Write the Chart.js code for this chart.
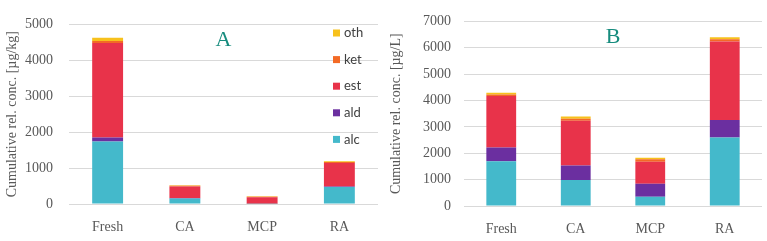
<!DOCTYPE html>
<html>
<head>
<meta charset="utf-8">
<script src="https://cdn.jsdelivr.net/npm/chart.js@4/dist/chart.umd.min.js"></script>
<style>
  html, body { margin: 0; padding: 0; background: #fff; }
  #wrapA { position: absolute; left: 0; top: 0; width: 384px; height: 241px; }
  #wrapB { position: absolute; left: 384px; top: 0; width: 383px; height: 241px; }
</style>
</head>
<body>
<div id="wrapA"><canvas id="chartA"></canvas></div>
<div id="wrapB"><canvas id="chartB"></canvas></div>
<script>
const categories = ['Fresh', 'CA', 'MCP', 'RA'];
const seriesNames = ['alc', 'ald', 'est', 'ket', 'oth'];
const seriesColors = ['#44B9CB', '#6B2FA0', '#E8334A', '#F36A25', '#F7C11C'];

// panel A, µg/kg
const alcA = [1740, 150, 5, 470];
const aldA = [110, 20, 5, 20];
const estA = [2630, 320, 180, 650];
const ketA = [60, 20, 15, 30];
const othA = [90, 15, 10, 20];
const ticksA = [0, 1000, 2000, 3000, 4000, 5000];

// panel B, µg/L
const alcB = [1700, 990, 350, 2600];
const aldB = [520, 550, 490, 660];
const estB = [1950, 1690, 840, 2980];
const ketB = [60, 80, 90, 80];
const othB = [60, 80, 60, 80];
const ticksB = [0, 1000, 2000, 3000, 4000, 5000, 6000, 7000];

const serif = "'Liberation Serif', serif";
const textGray = '#595959';

function makeDatasets(values) {
    return values.map((v, i) => ({
        label: seriesNames[i],
        data: v,
        backgroundColor: seriesColors[i],
        borderWidth: 0,
        barPercentage: 0.4,
        categoryPercentage: 1
    }));
}

// big teal panel letter
function panelLetter(letter) {
    return {
        id: 'panelLetter',
        afterDraw(chart) {
            const ctx = chart.ctx;
            const a = chart.chartArea;
            ctx.save();
            ctx.font = '22px ' + serif;
            ctx.fillStyle = '#178C7E';
            ctx.textAlign = 'center';
            ctx.textBaseline = 'middle';
            ctx.fillText(letter, (a.left + a.right) / 2, a.top + 16);
            ctx.restore();
        }
    };
}

// legend inside plot area, reversed order
const insideLegend = {
    id: 'insideLegend',
    afterDraw(chart) {
        const ctx = chart.ctx;
        const sets = chart.data.datasets.slice().reverse();
        ctx.save();
        ctx.font = "13px Lato, 'Liberation Sans', sans-serif";
        ctx.textBaseline = 'middle';
        sets.forEach((ds, i) => {
            const y = 33 + i * 26.6;
            ctx.fillStyle = ds.backgroundColor;
            ctx.fillRect(333, y - 3.5, 7, 7);
            ctx.fillStyle = '#404040';
            ctx.fillText(ds.label, 344, y);
        });
        ctx.restore();
    }
};

function makeChart(id, values, ticks, unit, yWidth, xHeight, pad, letter, extra) {
    return new Chart(document.getElementById(id), {
        type: 'bar',
        data: { labels: categories, datasets: makeDatasets(values) },
        options: {
            responsive: true,
            maintainAspectRatio: false,
            animation: false,
            layout: { padding: pad },
            plugins: { legend: { display: false }, tooltip: { enabled: false } },
            scales: {
                x: {
                    stacked: true,
                    grid: { display: false },
                    border: { display: false },
                    ticks: { color: textGray, font: { family: serif, size: 14 }, padding: 7 },
                    afterFit(scale) { scale.height = xHeight; }
                },
                y: {
                    stacked: true,
                    min: ticks[0],
                    max: ticks[ticks.length - 1],
                    afterBuildTicks(scale) { scale.ticks = ticks.map(v => ({ value: v })); },
                    grid: { color: '#D9D9D9', lineWidth: 1, drawTicks: false },
                    border: { display: false },
                    ticks: {
                        color: textGray,
                        font: { family: serif, size: 14 },
                        padding: yWidth === 69 ? 16 : 13,
                        callback: v => String(v)
                    },
                    title: {
                        display: true,
                        text: 'Cumulative rel. conc. [' + unit + ']',
                        color: textGray,
                        font: { family: serif, size: 14 },
                        padding: { top: 4, bottom: 0 }
                    },
                    afterFit(scale) { scale.width = yWidth; }
                }
            }
        },
        plugins: [panelLetter(letter)].concat(extra)
    });
}

makeChart('chartA', [alcA, aldA, estA, ketA, othA], ticksA, 'µg/kg', 69, 37,
    { top: 17, right: 6, left: 0, bottom: 0 }, 'A', [insideLegend]);
makeChart('chartB', [alcB, aldB, estB, ketB, othB], ticksB, 'µg/L', 80, 35,
    { top: 19, right: 5, left: 0, bottom: 0 }, 'B', []);
</script>
</body>
</html>
